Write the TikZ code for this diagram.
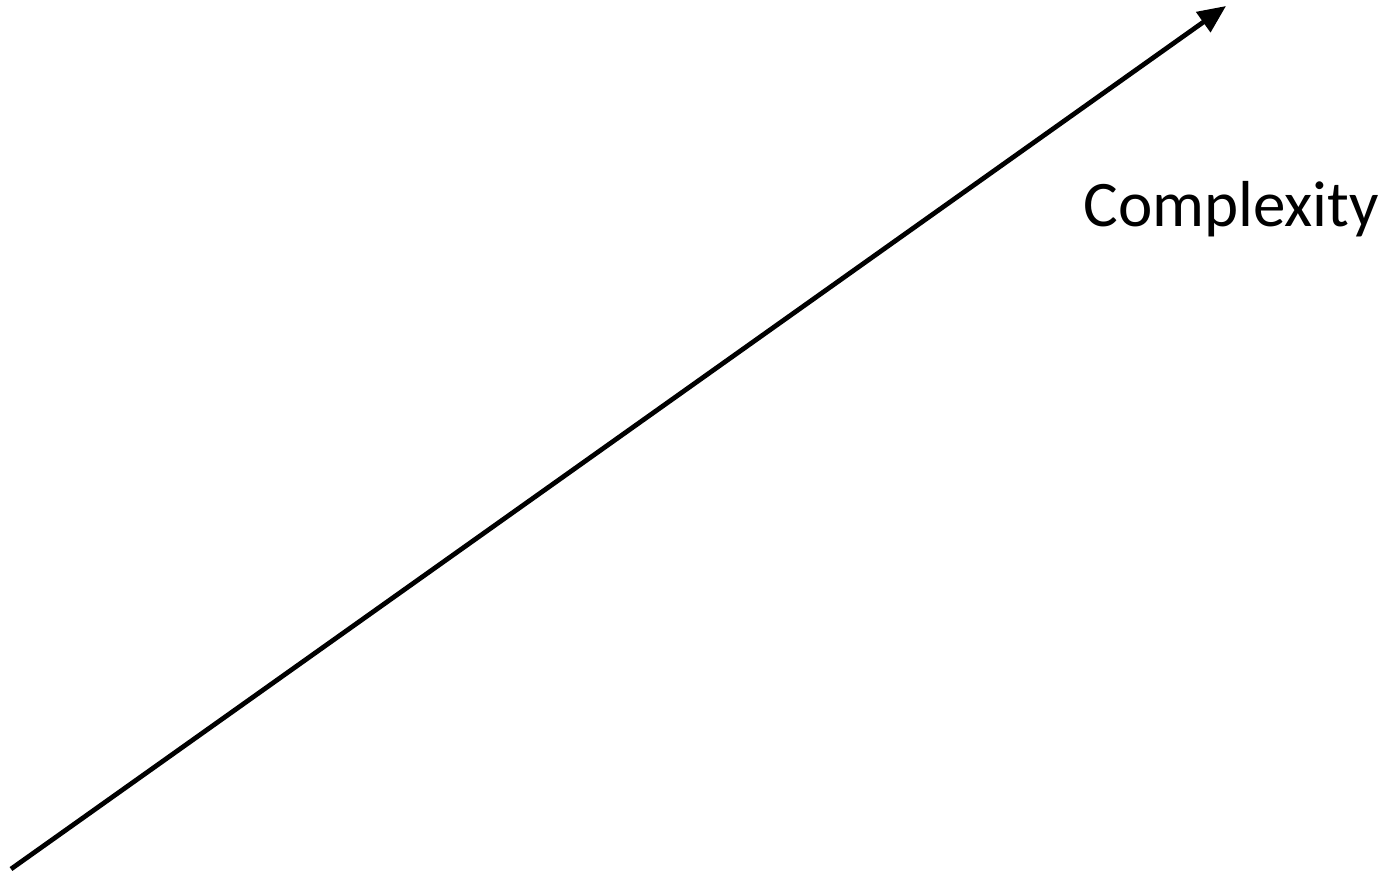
\documentclass[tikz,border=0pt]{standalone}
\usepackage{fontspec}
\setmainfont{Carlito}
\usetikzlibrary{arrows.meta}
\tikzset{
  axisline/.style={line width=0.095cm, black, -{Triangle[length=0.56cm,width=0.48cm]}},
  axislabel/.style={font=\fontsize{37}{44}\selectfont, inner sep=0pt, anchor=base west}
}
\begin{document}
\begin{tikzpicture}[x=0.02cm,y=-0.02cm]
\useasboundingbox (0,0) rectangle (1381,873);
\coordinate (s) at (11,869);
\coordinate (e) at (1226,6);
\draw[axisline] (s) -- (e);
\node[axislabel] (lbl) at (1083,226) {Complexity};
\end{tikzpicture}
\end{document}
